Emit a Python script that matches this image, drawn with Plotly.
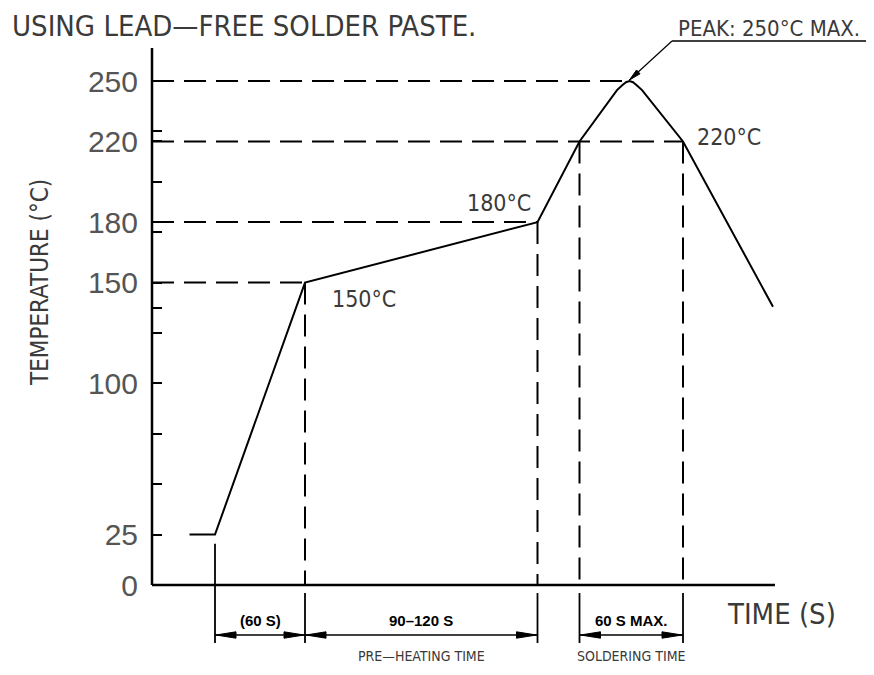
import plotly.graph_objects as go

# ---------------- data ----------------
profile_time = [25, 42, 102, 257, 285, 310, 313.3, 316, 318.3, 320.7, 323.3, 326.7, 354, 414]
profile_temp = [25, 25, 150, 180, 220, 245.5, 247.8, 249.4, 250, 249.4, 247.8, 245.5, 220, 138]

level_temps = [150, 180, 220, 250]
level_times = [102, 257, 354, 318.3]

drop_times = [102, 257, 285, 354]
drop_temps = [150, 180, 220, 220]

ytick_vals = [0, 25, 100, 150, 180, 220, 250]
ytick_text = ["0", "25", "100", "150", "180", "220", "250"]
yminor_vals = [50, 75, 125, 137.5, 175, 200, 225]

dim_starts = [42, 102, 285]
dim_ends = [102, 257, 354]
dim_labels = ["(60 S)", "90–120 S", "60 S MAX."]
dim_captions = ["", "PRE—HEATING TIME", "SOLDERING TIME"]

peak_time = 318.3
peak_temp = 250
axis_time_max = 415.3
axis_temp_max = 266.4

# ---------------- layout constants ----------------
W, H = 874, 675
OFF = 8                        # page body margin
X0_PX, Y0_PX = 152, 585        # screen position of the chart origin
SX, SY = 1.5, 2.016            # pixels per second / per degree

def px2x(px):
    return (px - X0_PX) / SX

def py2y(py):
    return (Y0_PX - py) / SY

def x2px(x):
    return X0_PX + x * SX

def y2py(y):
    return Y0_PX - y * SY

CAD = "DejaVu Sans Condensed, DejaVu Sans, sans-serif"
TXT = "#3a3a3a"
DASH = "22px,10px"

fig = go.Figure()

def line(xs, ys, width=2, dash=None, color="black"):
    fig.add_trace(go.Scatter(x=xs, y=ys, mode="lines", hoverinfo="skip",
                             line=dict(color=color, width=width, dash=dash),
                             showlegend=False))

def triangle(tip_px, toward_px, length=20, half_w=3.2):
    dx, dy = toward_px[0] - tip_px[0], toward_px[1] - tip_px[1]
    n = (dx * dx + dy * dy) ** 0.5
    ux, uy = dx / n, dy / n
    bx, by = tip_px[0] + ux * length, tip_px[1] + uy * length
    px_pts = [tip_px, (bx - uy * half_w, by + ux * half_w), (bx + uy * half_w, by - ux * half_w), tip_px]
    fig.add_trace(go.Scatter(x=[px2x(p[0]) for p in px_pts], y=[py2y(p[1]) for p in px_pts],
                             mode="lines", fill="toself", fillcolor="black",
                             line=dict(color="black", width=1), hoverinfo="skip",
                             showlegend=False))

# horizontal guides
for T, t in zip(level_temps, level_times):
    line([0, t], [T, T], width=2, dash=DASH)
# vertical drops
for t, T in zip(drop_times, drop_temps):
    line([t, t], [T, 0], width=2, dash=DASH)

# axes
line([0, 0], [0, axis_temp_max], width=2.5)
line([0, axis_time_max], [0, 0], width=2.5)

# profile
line(profile_time, profile_temp, width=2)

# dimension lines
dim_y = py2y(635)
ext_bottom = py2y(643)
bounds = sorted(set(dim_starts + dim_ends))
for b in bounds:
    top = py2y(593) if b in drop_times else profile_temp[profile_time.index(b)] - 4.5
    line([b, b], [top, ext_bottom], width=1.8)

for s, e, lab, cap in zip(dim_starts, dim_ends, dim_labels, dim_captions):
    line([s, e], [dim_y, dim_y], width=1.5)
    sp, ep, yp = x2px(s), x2px(e), y2py(dim_y)
    triangle((sp + 1, yp), (ep, yp))
    triangle((ep - 1, yp), (sp, yp))
    fig.add_annotation(x=(s + e) / 2, y=py2y(620), xref="x", yref="y", text="<b>%s</b>" % lab,
                       showarrow=False, font=dict(family="Liberation Sans, Arial, sans-serif",
                                                  size=15, color="black"))
    if cap:
        fig.add_annotation(x=(s + e) / 2, y=py2y(656), xref="x", yref="y", text=cap,
                           showarrow=False, font=dict(family=CAD, size=14, color=TXT))

# peak leader with arrow and underline
tail_px = (672, 41)
tip_px = (x2px(peak_time), y2py(peak_temp) - 1)
line([px2x(tail_px[0]), peak_time], [py2y(tail_px[1]), py2y(tip_px[1])], width=1.2)
line([px2x(tail_px[0]), px2x(866)], [py2y(tail_px[1])] * 2, width=1.5)
triangle(tip_px, tail_px, length=12, half_w=2.6)

# level labels anchored to the profile
fig.add_annotation(x=102, y=150, text="150°C", showarrow=False, xanchor="left", yanchor="middle",
                   xshift=25, yshift=-16, font=dict(family=CAD, size=23, color=TXT))
fig.add_annotation(x=257, y=180, text="180°C", showarrow=False, xanchor="right", yanchor="middle",
                   xshift=-5, yshift=19, font=dict(family=CAD, size=23, color=TXT))
fig.add_annotation(x=354, y=220, text="220°C", showarrow=False, xanchor="left", yanchor="middle",
                   xshift=12, yshift=4, font=dict(family=CAD, size=23, color=TXT))

def ptext(px, py, text, size, xanchor="center", angle=0):
    fig.add_annotation(x=(px - OFF) / W, y=1 - (py - OFF) / H, xref="paper", yref="paper",
                       text=text, showarrow=False, xanchor=xanchor, yanchor="middle",
                       textangle=angle, font=dict(family=CAD, size=size, color=TXT))

ptext(10, 26, "USING LEAD—FREE SOLDER PASTE.", 29, xanchor="left")
ptext(40, 283, "TEMPERATURE (°C)", 24, angle=-90)
ptext(781, 614, "TIME (S)", 29)
ptext(769, 28, "PEAK: 250°C MAX.", 22)

# figure is placed 8px into the page; map screen pixels to figure pixels
fig_x0 = px2x(OFF)
fig_x1 = px2x(OFF + W)
fig_y0 = py2y(OFF + H)
fig_y1 = py2y(OFF)

fig.update_layout(
    width=W, height=H,
    margin=dict(l=0, r=0, t=0, b=0),
    paper_bgcolor="white", plot_bgcolor="white",
    showlegend=False,
    xaxis=dict(range=[fig_x0, fig_x1], visible=False, fixedrange=True),
    yaxis=dict(range=[fig_y0, fig_y1], anchor="free", position=(X0_PX - OFF) / W,
               showgrid=False, zeroline=False, showline=False,
               tickmode="array", tickvals=ytick_vals, ticktext=ytick_text,
               ticks="inside", ticklen=9, tickwidth=2, tickcolor="black",
               ticklabelstandoff=14,
               tickfont=dict(family="Liberation Sans, Arial, sans-serif", size=30, color="#555"),
               minor=dict(tickmode="array", tickvals=yminor_vals, ticks="inside",
                          ticklen=9, tickwidth=2, tickcolor="black"),
               fixedrange=True),
)

fig.write_html("out.html")
